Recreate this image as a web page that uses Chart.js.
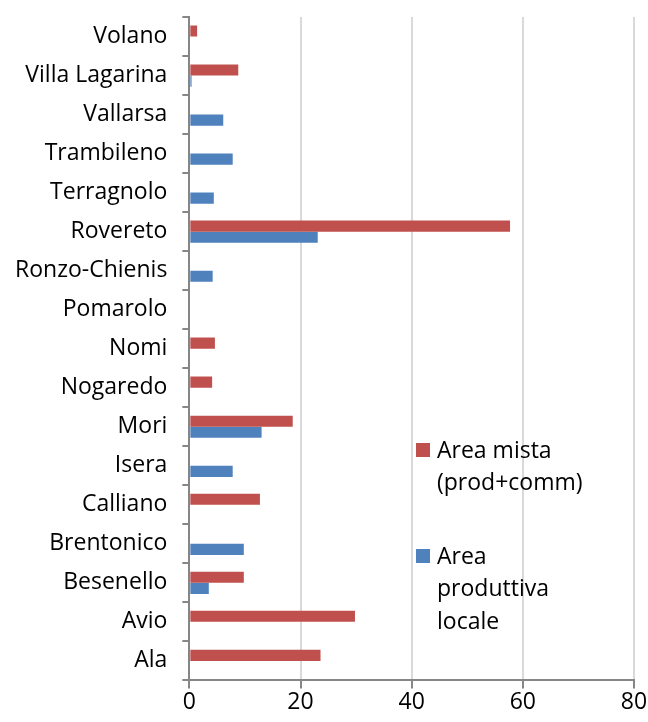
<!DOCTYPE html>
<html>
<head>
<meta charset="utf-8">
<script src="https://cdn.jsdelivr.net/npm/chart.js@4/dist/chart.umd.min.js"></script>
<style>
  html, body { margin: 0; padding: 0; background: #fff; }
  #wrap { width: 648px; height: 722px; }
</style>
</head>
<body>
<div id="wrap"><canvas id="myChart"></canvas></div>
<script>
// comuni, dall'alto verso il basso
var comuni = ["Volano", "Villa Lagarina", "Vallarsa", "Trambileno", "Terragnolo", "Rovereto",
  "Ronzo-Chienis", "Pomarolo", "Nomi", "Nogaredo", "Mori", "Isera", "Calliano",
  "Brentonico", "Besenello", "Avio", "Ala"];

var areaMista = [1.4, 8.8, null, null, null, 57.7, null, null, 4.6, 4.1, 18.6, null, 12.7, null, 9.8, 29.8, 23.6];
var areaProduttiva = [null, 0.4, 6.1, 7.8, 4.4, 23.1, 4.2, null, null, null, 13.0, 7.8, null, 9.8, 3.5, null, null];

var serie = ["Area mista (prod+comm)", "Area produttiva locale"];
var legendaRighe = [["Area mista", "(prod+comm)"], ["Area", "produttiva", "locale"]];
var colori = ["#C0504D", "#4F81BD"];

var xTicks = [0, 20, 40, 60, 80];

var FONT = "'Open Sans', sans-serif";

// legenda dentro l'area del grafico, come in Excel
var legendaInterna = {
  id: 'legendaInterna',
  afterDraw: function(chart) {
    var c = chart.ctx;
    var x = 416, y = [443, 549];
    c.save();
    c.font = "23px " + FONT;
    c.textBaseline = 'middle';
    for (var i = 0; i < legendaRighe.length; i++) {
      c.fillStyle = colori[i];
      c.fillRect(x, y[i], 14, 14);
      c.fillStyle = '#000';
      for (var j = 0; j < legendaRighe[i].length; j++) {
        c.fillText(legendaRighe[i][j], x + 21, y[i] + 8 + j * 32.5);
      }
    }
    c.restore();
  }
};

var ctx = document.getElementById("myChart").getContext('2d');
var myChart = new Chart(ctx, {
  type: 'bar',
  data: {
    labels: comuni,
    datasets: [
      { label: serie[0], data: areaMista, backgroundColor: colori[0] },
      { label: serie[1], data: areaProduttiva, backgroundColor: colori[1] }
    ]
  },
  options: {
    indexAxis: 'y',
    responsive: true,
    maintainAspectRatio: false,
    animation: false,
    categoryPercentage: 0.57,
    barPercentage: 1.0,
    layout: { padding: { top: 17, right: 14, bottom: 6, left: 0 } },
    plugins: {
      legend: { display: false },
      tooltip: { enabled: false }
    },
    scales: {
      x: {
        min: 0,
        max: 80,
        afterBuildTicks: function(axis) {
          axis.ticks = xTicks.map(function(v) { return { value: v }; });
        },
        grid: { color: '#D9D9D9', lineWidth: 2, tickColor: '#868686', tickLength: 8 },
        border: { display: true, color: '#868686', width: 2 },
        ticks: { color: '#000', font: { family: FONT, size: 23 }, padding: 0 }
      },
      y: {
        // niente spazio extra sopra/sotto per le etichette
        afterFit: function(scale) { scale.paddingTop = 0; scale.paddingBottom = 0; },
        grid: { drawOnChartArea: false, color: '#868686', lineWidth: 2, tickLength: 7, offset: true },
        border: { display: true, color: '#868686', width: 2 },
        ticks: { color: '#000', font: { family: FONT, size: 23 }, padding: 15, autoSkip: false }
      }
    }
  },
  plugins: [legendaInterna]
});
</script>
</body>
</html>
